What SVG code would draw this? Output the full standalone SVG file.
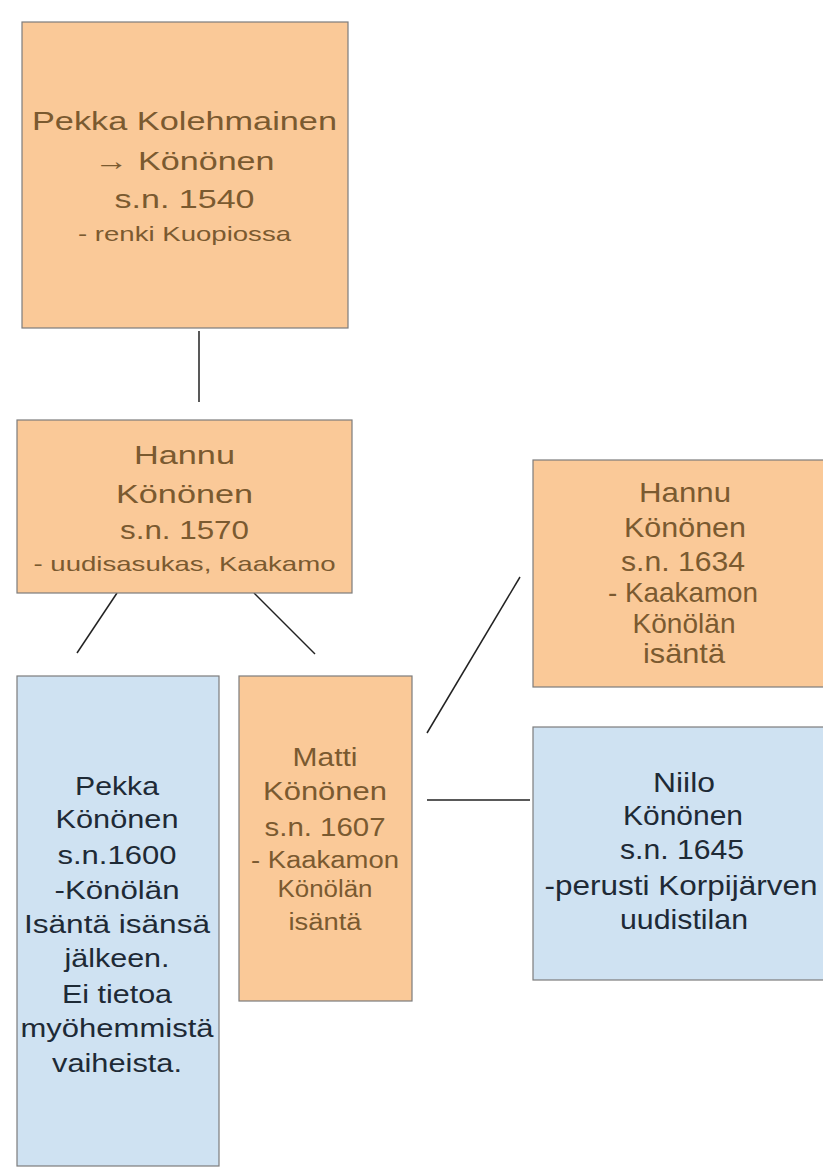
<svg xmlns="http://www.w3.org/2000/svg" width="823" height="1169" viewBox="0 0 823 1169">
<style>
  .orange rect { fill: #FAC998; stroke: #7c7c7c; stroke-width: 1.2; }
  .blue rect { fill: #CFE2F2; stroke: #7c7c7c; stroke-width: 1.2; }
  text { font-family: "Liberation Sans", Arial, sans-serif; text-anchor: middle; }
  .orange text { fill: #7A5A30; }
  .blue text { fill: #1E2A36; }
  #connectors line { stroke: #222; stroke-width: 1.5; }
</style>
<rect x="0" y="0" width="823" height="1169" fill="#ffffff"/>
<g id="connectors">
  <line x1="199" y1="331" x2="199" y2="402"/>
  <line x1="117" y1="593" x2="77" y2="653"/>
  <line x1="254" y1="593" x2="315" y2="654"/>
  <line x1="427" y1="733" x2="520" y2="577"/>
  <line x1="427" y1="800" x2="530" y2="800"/>
</g>
<g id="pekka-kolehmainen" class="orange">
  <rect x="22" y="22" width="326" height="306"/>
  <text x="184.5" y="130" font-size="26" textLength="305" lengthAdjust="spacingAndGlyphs">Pekka Kolehmainen</text>
  <text x="184.5" y="170" font-size="26" textLength="180" lengthAdjust="spacingAndGlyphs">→ Könönen</text>
  <text x="184.5" y="208" font-size="26" textLength="140" lengthAdjust="spacingAndGlyphs">s.n. 1540</text>
  <text x="184.5" y="241" font-size="21" textLength="213" lengthAdjust="spacingAndGlyphs">- renki Kuopiossa</text>
</g>
<g id="hannu-1570" class="orange">
  <rect x="17" y="420" width="335" height="173"/>
  <text x="184.5" y="464" font-size="26" textLength="101" lengthAdjust="spacingAndGlyphs">Hannu</text>
  <text x="184.5" y="503" font-size="26" textLength="137" lengthAdjust="spacingAndGlyphs">Könönen</text>
  <text x="184.5" y="539" font-size="26" textLength="129" lengthAdjust="spacingAndGlyphs">s.n. 1570</text>
  <text x="184.5" y="571" font-size="21" textLength="302" lengthAdjust="spacingAndGlyphs">- uudisasukas, Kaakamo</text>
</g>
<g id="pekka-1600" class="blue">
  <rect x="17" y="676" width="202" height="490"/>
  <text x="117" y="795" font-size="25" textLength="84" lengthAdjust="spacingAndGlyphs">Pekka</text>
  <text x="117" y="828" font-size="25" textLength="123" lengthAdjust="spacingAndGlyphs">Könönen</text>
  <text x="117" y="864" font-size="25" textLength="119" lengthAdjust="spacingAndGlyphs">s.n.1600</text>
  <text x="117" y="899" font-size="25" textLength="125" lengthAdjust="spacingAndGlyphs">-Könölän</text>
  <text x="117" y="933" font-size="25" textLength="186" lengthAdjust="spacingAndGlyphs">Isäntä isänsä</text>
  <text x="117" y="967" font-size="25" textLength="105" lengthAdjust="spacingAndGlyphs">jälkeen.</text>
  <text x="117" y="1003" font-size="25" textLength="110" lengthAdjust="spacingAndGlyphs">Ei tietoa</text>
  <text x="117" y="1037" font-size="25" textLength="193" lengthAdjust="spacingAndGlyphs">myöhemmistä</text>
  <text x="117" y="1072" font-size="25" textLength="130" lengthAdjust="spacingAndGlyphs">vaiheista.</text>
</g>
<g id="matti-1607" class="orange">
  <rect x="239" y="676" width="173" height="325"/>
  <text x="325" y="766" font-size="25" textLength="65" lengthAdjust="spacingAndGlyphs">Matti</text>
  <text x="325" y="800" font-size="25" textLength="124" lengthAdjust="spacingAndGlyphs">Könönen</text>
  <text x="325" y="836" font-size="25" textLength="121" lengthAdjust="spacingAndGlyphs">s.n. 1607</text>
  <text x="325" y="868" font-size="23" textLength="148" lengthAdjust="spacingAndGlyphs">- Kaakamon</text>
  <text x="325" y="897" font-size="23" textLength="95" lengthAdjust="spacingAndGlyphs">Könölän</text>
  <text x="325" y="930" font-size="23" textLength="73" lengthAdjust="spacingAndGlyphs">isäntä</text>
</g>
<g id="hannu-1634" class="orange">
  <rect x="533" y="460" width="310" height="227"/>
  <text x="685" y="502" font-size="28" textLength="92" lengthAdjust="spacingAndGlyphs">Hannu</text>
  <text x="685" y="537" font-size="28" textLength="122" lengthAdjust="spacingAndGlyphs">Könönen</text>
  <text x="683" y="571" font-size="28" textLength="124" lengthAdjust="spacingAndGlyphs">s.n. 1634</text>
  <text x="683" y="602" font-size="28" textLength="150" lengthAdjust="spacingAndGlyphs">- Kaakamon</text>
  <text x="684" y="633" font-size="28" textLength="103" lengthAdjust="spacingAndGlyphs">Könölän</text>
  <text x="684" y="663" font-size="28" textLength="82" lengthAdjust="spacingAndGlyphs">isäntä</text>
</g>
<g id="niilo-1645" class="blue">
  <rect x="533" y="727" width="310" height="253"/>
  <text x="684" y="792" font-size="28" textLength="62" lengthAdjust="spacingAndGlyphs">Niilo</text>
  <text x="683" y="825" font-size="28" textLength="120" lengthAdjust="spacingAndGlyphs">Könönen</text>
  <text x="682" y="859" font-size="28" textLength="124" lengthAdjust="spacingAndGlyphs">s.n. 1645</text>
  <text x="681" y="895" font-size="28" textLength="273" lengthAdjust="spacingAndGlyphs">-perusti Korpijärven</text>
  <text x="684" y="929" font-size="28" textLength="128" lengthAdjust="spacingAndGlyphs">uudistilan</text>
</g>
</svg>
